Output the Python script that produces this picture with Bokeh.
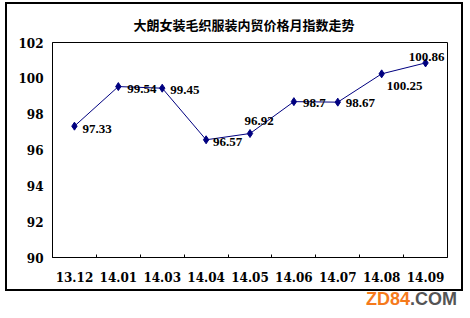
from bokeh.plotting import figure
from bokeh.models import (ColumnDataSource, FixedTicker, LinearAxis, Range1d,
                          LabelSet, Div)
from bokeh.layouts import column
from bokeh.embed import file_html
from bokeh.resources import INLINE

# ---- data ----
months = ["13.12", "14.01", "14.03", "14.04", "14.05", "14.06", "14.07", "14.08", "14.09"]
index_values = [97.33, 99.54, 99.45, 96.57, 96.92, 98.7, 98.67, 100.25, 100.86]
y_ticks = [90, 92, 94, 96, 98, 100, 102]
title_text = "大朗女装毛织服装内贸价格月指数走势"

# label placement per point (style)
label_dx = [8, 9, 8, 7, 9, 9, 8, 23, 1]
label_dy = [-3, -2, -2, -2, 13, -1, -1, -12, 6]
label_align = ["left", "left", "left", "left", "center", "left", "left", "center", "center"]

n = len(months)
xs = [i + 0.5 for i in range(n)]
src = ColumnDataSource(dict(x=xs, y=index_values,
                            txt=[f"{v:g}" for v in index_values],
                            dx=label_dx, dy=label_dy, al=label_align))

# canvas sits at page x 7..461, y 4..289 (outline drawn just outside it);
# frame at page x 52..447, y 41..257
W, H = 454, 285
FL, FR, FT, FB = 45, 440, 37, 253

p = figure(width=W, height=H, output_backend="svg", toolbar_location=None,
           x_range=Range1d(0, n), y_range=Range1d(90, 102),
           x_axis_type=None, y_axis_type=None,
           min_border_left=FL, min_border_right=W - FR, min_border_top=FT,
           min_border_bottom=H - FB,
           margin=(4, 0, 0, 7),
           styles={"outline": "2px solid black"})
p.background_fill_color = "white"
p.border_fill_color = "white"
p.outline_line_color = "black"
p.outline_line_width = 1

# title
p.title.text = title_text
p.title.align = "left"
p.title.offset = 81
p.title.text_font = "Noto Sans CJK SC"
p.title.text_font_size = "13px"
p.title.text_font_style = "bold"
p.title.text_color = "black"
p.title.standoff = 17

# y axis
yax = LinearAxis(ticker=FixedTicker(ticks=y_ticks))
yax.major_tick_out = 0
yax.major_tick_in = 0
yax.minor_tick_out = 0
yax.minor_tick_in = 0
yax.major_label_standoff = 9
yax.major_label_text_font = "DejaVu Serif"
yax.major_label_text_font_style = "bold"
yax.major_label_text_font_size = "12px"
yax.major_label_text_color = "black"
yax.axis_line_color = "black"
p.add_layout(yax, "left")

# x axis: labels at category centres, small inward ticks at boundaries
xl = LinearAxis(ticker=FixedTicker(ticks=xs, minor_ticks=list(range(1, n))))
xl.major_label_overrides = {x: m for x, m in zip(xs, months)}
xl.major_tick_in = 0
xl.major_tick_out = 0
xl.minor_tick_in = 3
xl.minor_tick_out = 0
xl.minor_tick_line_color = "black"
xl.axis_line_color = "black"
xl.major_label_standoff = 14
xl.major_label_text_font = "DejaVu Serif"
xl.major_label_text_font_style = "bold"
xl.major_label_text_font_size = "12px"
xl.major_label_text_color = "black"
p.add_layout(xl, "below")

# grid
for g in p.grid:
    if g.dimension == 1:
        g.ticker = FixedTicker(ticks=y_ticks)
        g.grid_line_color = "black"
    else:
        g.visible = False

# series
p.line("x", "y", source=src, line_color="#000080", line_width=1)
p.scatter("x", "y", source=src, marker="diamond", size=8, fill_color="#000080",
          line_color="#000080")

labels = LabelSet(x="x", y="y", text="txt", source=src, x_offset="dx", y_offset="dy",
                  text_align="al", text_baseline="middle",
                  text_font="DejaVu Serif", text_font_style="bold",
                  text_font_size="13px", text_color="black")
p.add_layout(labels)

# watermark
mark = Div(text='<span style="color:#f57a1c">ZD84</span><span style="color:#555555">.COM</span>',
           width=100, height=22, margin=(0, 0, 0, 366),
           styles={"font-family": "Liberation Sans", "font-weight": "bold",
                   "font-size": "18px", "line-height": "20px"})

layout = column(p, mark, spacing=0)
open("out.html", "w").write(file_html(layout, INLINE))
